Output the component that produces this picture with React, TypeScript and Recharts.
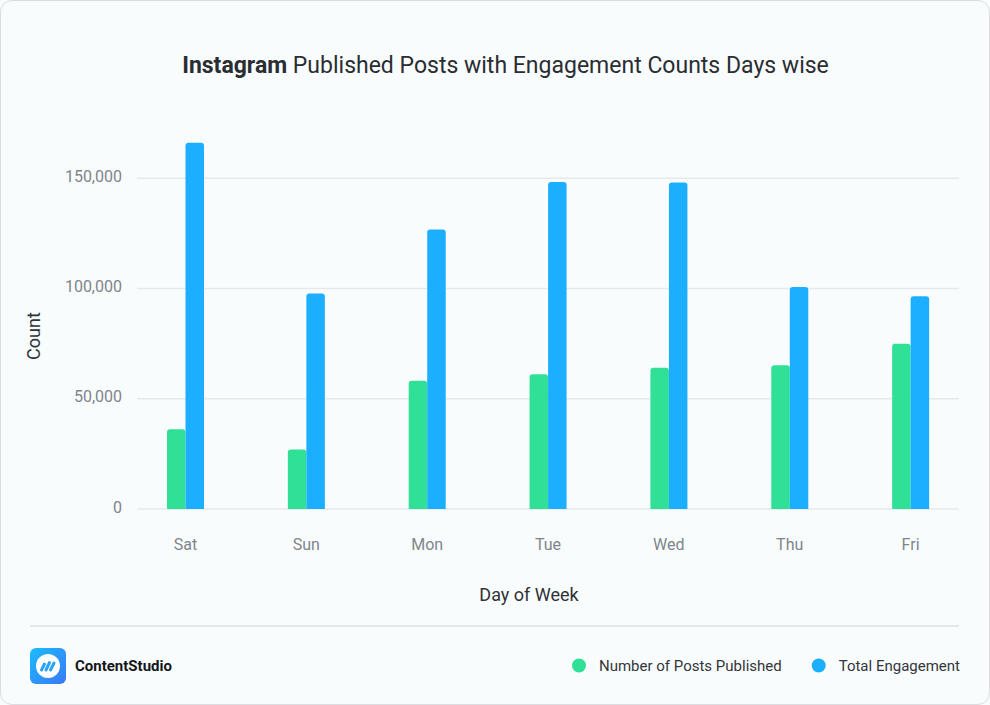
import React from "react"
import { Bar, BarChart, CartesianGrid, XAxis, YAxis } from "recharts"

const days = ["Sat", "Sun", "Mon", "Tue", "Wed", "Thu", "Fri"]
const postsPublished = [36200, 27000, 58100, 61100, 64000, 65200, 74900]
const totalEngagement = [166100, 97700, 126700, 148200, 148000, 100700, 96500]
const yTicks = [0, 50000, 100000, 150000]

const series = [
  { key: "posts", name: "Number of Posts Published", color: "#2fe096" },
  { key: "engagement", name: "Total Engagement", color: "#1cafff" },
]

const data = days.map((day, i) => ({
  day,
  posts: postsPublished[i],
  engagement: totalEngagement[i],
}))

const FONT = "Roboto, 'Noto Sans', sans-serif"

function Logo() {
  return (
    <svg width={36} height={36} viewBox="0 0 36 36" style={{ position: "absolute", left: 30, top: 648 }}>
      <defs>
        <linearGradient id="logoGrad" x1="0" y1="0" x2="1" y2="1">
          <stop offset="0%" stopColor="#1cbcff" />
          <stop offset="100%" stopColor="#3a78f5" />
        </linearGradient>
      </defs>
      <rect x={0} y={0} width={36} height={36} rx={6} fill="url(#logoGrad)" />
      <circle cx={18} cy={18} r={12} fill="#fff" />
      <g stroke="#2aa2f8" strokeWidth={3} strokeLinecap="round">
        <line x1={11.5} y1={22} x2={14.5} y2={16} />
        <line x1={16} y1={22} x2={19.5} y2={14.5} />
        <line x1={20.5} y1={22} x2={24} y2={15} />
      </g>
    </svg>
  )
}

export default function App() {
  return (
    <div style={{ position: "relative", width: 990, height: 705, background: "#f9fcfd", fontFamily: FONT }}>
      <style>{`body{margin:0}`}</style>

      <svg width={990} height={100} style={{ position: "absolute", left: 0, top: 0 }}>
        <text x={505.5} y={72.5} textAnchor="middle" fontSize={23} fill="#2a2d31" fontFamily={FONT}>
          <tspan fontWeight={700}>Instagram</tspan>
          <tspan> Published Posts with Engagement Counts Days wise</tspan>
        </text>
      </svg>

      <div style={{ position: "absolute", left: 0, top: 0 }}>
        <BarChart
          width={990}
          height={609}
          data={data}
          margin={{ top: 123, right: 31, left: 0, bottom: 0 }}
          barGap={0}
          barSize={18.5}
        >
          <CartesianGrid vertical={false} horizontalValues={yTicks} stroke="#e6e9ec" strokeWidth={1.5} />
          <XAxis
            dataKey="day"
            padding={{ left: -12, right: -12 }}
            axisLine={false}
            tickLine={false}
            tickMargin={24}
            height={100}
            tick={{ fill: "#7f858b", fontSize: 16, fontFamily: FONT }}
            label={{
              content: () => (
                <text x={529} y={594} textAnchor="middle" dominantBaseline="central" fill="#2f3236" fontSize={18} fontFamily={FONT}>
                  Day of Week
                </text>
              ),
            }}
          />
          <YAxis
            width={137}
            domain={[0, 175000]}
            ticks={yTicks}
            axisLine={false}
            tickLine={false}
            tickMargin={9}
            tickFormatter={(v: number) => v.toLocaleString("en-US")}
            tick={{ fill: "#7f858b", fontSize: 16, fontFamily: FONT, dy: -2 }}
            label={{
              content: () => (
                <text
                  x={33}
                  y={336}
                  transform="rotate(-90 33 336)"
                  textAnchor="middle"
                  dominantBaseline="central"
                  fill="#2f3236"
                  fontSize={18}
                  fontFamily={FONT}
                >
                  Count
                </text>
              ),
            }}
          />
          {series.map((s) => (
            <Bar
              key={s.key}
              dataKey={s.key}
              name={s.name}
              fill={s.color}
              radius={[3, 3, 0, 0]}
              isAnimationActive={false}
            />
          ))}
        </BarChart>
      </div>

      <div style={{ position: "absolute", left: 30, top: 625, width: 929, height: 1.5, background: "#e4e7ea" }} />

      <Logo />
      <div
        style={{
          position: "absolute",
          left: 75,
          top: 656,
          fontSize: 15,
          fontWeight: 700,
          color: "#141619",
          lineHeight: "20px",
        }}
      >
        ContentStudio
      </div>

      <svg width={990} height={40} style={{ position: "absolute", left: 0, top: 646 }}>
        {series.map((s, i) => {
          const cx = i === 0 ? 579 : 818.7
          return (
            <g key={s.key}>
              <circle cx={cx} cy={19.5} r={7} fill={s.color} />
              <text x={cx + 20} y={25} fontSize={15} fill="#33363a" fontFamily={FONT}>
                {s.name}
              </text>
            </g>
          )
        })}
      </svg>

      <div
        style={{
          position: "absolute",
          left: 0,
          top: 0,
          width: 990,
          height: 705,
          boxSizing: "border-box",
          border: "1.5px solid #dcdde0",
          borderRadius: 12,
          pointerEvents: "none",
        }}
      />
    </div>
  )
}
